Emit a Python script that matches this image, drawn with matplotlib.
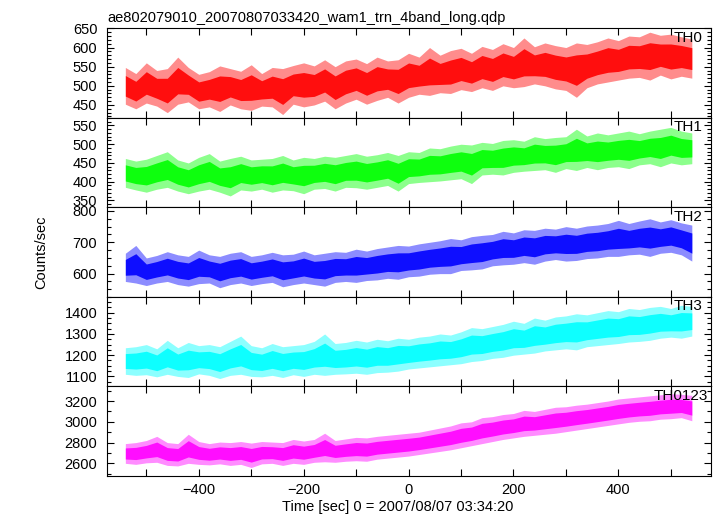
import numpy as np
import matplotlib
matplotlib.use("Agg")
import matplotlib.pyplot as plt
from matplotlib.ticker import MultipleLocator

plt.rcParams['font.family'] = ['Liberation Sans', 'DejaVu Sans']

# ---- data (20 s bins, low / high envelope of the light curve)
t_bins = list(range(-540, 541, 20))

th0_lo = [452, 440, 455, 447, 430, 452, 458, 440, 445, 433, 450, 440, 436, 447, 445, 425, 452, 445, 450, 460,
          440, 455, 465, 452, 462, 470, 455, 470, 478, 475, 482, 480, 490, 485, 495, 488, 500, 495, 498, 505,
          500, 492, 488, 470, 495, 505, 510, 515, 520, 522, 515, 528, 518, 525, 520]
th0_hi = [548, 532, 560, 540, 545, 575, 548, 530, 537, 552, 545, 538, 555, 532, 548, 545, 553, 560, 552, 568,
          550, 565, 570, 558, 575, 565, 568, 585, 575, 600, 580, 592, 598, 585, 603, 595, 610, 600, 625, 602,
          612, 605, 600, 612, 608, 615, 625, 618, 630, 628, 640, 632, 635, 628, 622]

th1_lo = [385, 378, 372, 380, 385, 375, 368, 375, 380, 372, 362, 378, 375, 380, 372, 378, 376, 368, 380, 382,
          375, 385, 384, 380, 385, 390, 375, 395, 398, 400, 402, 405, 408, 395, 418, 420, 418, 425, 428, 430,
          432, 425, 435, 430, 438, 432, 438, 440, 435, 445, 448, 440, 450, 445, 448]
th1_hi = [462, 455, 460, 470, 480, 458, 450, 465, 475, 455, 462, 468, 458, 460, 462, 470, 458, 465, 462, 468,
          465, 470, 475, 468, 472, 478, 470, 480, 478, 490, 488, 495, 500, 498, 505, 502, 510, 512, 508, 520,
          515, 518, 520, 540, 522, 530, 525, 530, 535, 528, 535, 540, 545, 535, 530]

th2_lo = [575, 570, 562, 570, 575, 565, 560, 568, 570, 555, 565, 570, 562, 568, 572, 558, 565, 570, 565, 560,
          572, 575, 572, 578, 580, 585, 582, 590, 592, 598, 600, 600, 610, 612, 615, 625, 628, 630, 635, 630,
          640, 645, 640, 642, 648, 650, 655, 655, 660, 662, 655, 665, 668, 660, 640]
th2_hi = [665, 690, 650, 658, 670, 660, 655, 675, 660, 655, 665, 670, 655, 660, 668, 660, 662, 672, 660, 665,
          670, 668, 678, 672, 680, 685, 690, 688, 695, 700, 705, 712, 708, 718, 722, 725, 735, 730, 740, 738,
          745, 742, 750, 745, 752, 755, 760, 770, 760, 768, 775, 765, 772, 762, 755]

th3_lo = [1110, 1105, 1108, 1098, 1110, 1100, 1095, 1112, 1105, 1090, 1105, 1110, 1100, 1098, 1105, 1095, 1108,
          1100, 1110, 1105, 1110, 1112, 1115, 1110, 1118, 1120, 1125, 1135, 1140, 1145, 1150, 1155, 1160, 1170,
          1175, 1185, 1190, 1200, 1205, 1210, 1220, 1225, 1230, 1225, 1240, 1245, 1250, 1255, 1262, 1265, 1270,
          1280, 1285, 1280, 1290]
th3_hi = [1235, 1240, 1250, 1230, 1270, 1235, 1260, 1245, 1250, 1240, 1265, 1290, 1245, 1235, 1255, 1240, 1245,
          1250, 1265, 1300, 1255, 1260, 1270, 1262, 1275, 1268, 1280, 1275, 1285, 1290, 1300, 1295, 1310, 1330,
          1325, 1335, 1345, 1360, 1350, 1375, 1365, 1380, 1385, 1395, 1390, 1400, 1410, 1405, 1420, 1415, 1425,
          1430, 1420, 1435, 1430]

thsum_lo = [2600, 2590, 2605, 2610, 2580, 2575, 2600, 2590, 2585, 2595, 2580, 2590, 2560, 2595, 2600, 2580, 2600,
            2590, 2610, 2615, 2610, 2620, 2625, 2620, 2640, 2650, 2660, 2670, 2685, 2700, 2715, 2730, 2750, 2770,
            2790, 2810, 2830, 2845, 2860, 2870, 2880, 2890, 2905, 2920, 2935, 2950, 2965, 2980, 2995, 3005, 3010,
            3025, 3030, 3040, 3010]
thsum_hi = [2790, 2800, 2820, 2860, 2800, 2790, 2880, 2810, 2790, 2805, 2800, 2810, 2795, 2810, 2805, 2800, 2830,
            2815, 2830, 2890, 2820, 2835, 2850, 2845, 2860, 2870, 2880, 2890, 2900, 2920, 2940, 2960, 2990, 3000,
            3040, 3050, 3070, 3080, 3110, 3100, 3120, 3140, 3145, 3160, 3170, 3185, 3200, 3220, 3230, 3240, 3250,
            3260, 3270, 3265, 3255]

labels = ['TH0', 'TH1', 'TH2', 'TH3', 'TH0123']
title = 'ae802079010_20070807033420_wam1_trn_4band_long.qdp'
xlabel = 'Time [sec] 0 = 2007/08/07 03:34:20'
ylabel = 'Counts/sec'

# ---- styling
series_lo = [th0_lo, th1_lo, th2_lo, th3_lo, thsum_lo]
series_hi = [th0_hi, th1_hi, th2_hi, th3_hi, thsum_hi]
colors = ['#ff0000', '#00ff00', '#0000ff', '#00ffff', '#ff00ff']
ylims = [(417, 651), (332, 571), (526, 812), (1053, 1475), (2478, 3341)]
ymajor = [50, 50, 100, 100, 200]
yminor = [10, 10, 25, 25, 100]
lab_x = [0.986, 0.986, 0.986, 0.986, 0.996]

fig = plt.figure(figsize=(7.17, 5.16), dpi=100)
axes = fig.subplots(5, 1, sharex=True, gridspec_kw=dict(hspace=0))
fig.subplots_adjust(left=0.1492, right=0.9912, top=1 - 28 / 516, bottom=1 - 476 / 516)

t = np.array(t_bins, dtype=float)
for i, ax in enumerate(axes):
    lo = np.array(series_lo[i], dtype=float)
    hi = np.array(series_hi[i], dtype=float)
    span = hi - lo
    # light outer band (error-bar fringe) and saturated core
    ax.fill_between(t, lo, hi, color=colors[i], alpha=0.45, lw=0)
    ax.fill_between(t, lo + 0.22 * span, hi - 0.22 * span, color=colors[i], alpha=0.9, lw=0)
    ax.set_ylim(*ylims[i])
    ax.set_xlim(-575, 576)
    ax.yaxis.set_major_locator(MultipleLocator(ymajor[i]))
    ax.yaxis.set_minor_locator(MultipleLocator(yminor[i]))
    ax.xaxis.set_major_locator(MultipleLocator(200))
    ax.xaxis.set_minor_locator(MultipleLocator(100))
    ax.tick_params(which='both', direction='in', top=True, right=True, labelsize=10.5, width=0.8)
    ax.tick_params(axis='y', which='major', length=5, pad=7)
    ax.tick_params(axis='y', which='minor', length=3)
    ax.tick_params(axis='x', which='both', length=5, pad=5)
    for s in ax.spines.values():
        s.set_linewidth(0.8)
    ax.text(lab_x[i], 0.97, labels[i], transform=ax.transAxes, ha='right', va='top', fontsize=11)

axes[0].set_title(title, loc='left', fontsize=10.5, pad=4)
fig.text(397.5 / 717, 1 - 507 / 516, xlabel, ha='center', va='center', fontsize=10.5)
fig.text(41 / 717, 1 - 252 / 516, ylabel, ha='center', va='center', rotation=90, fontsize=10.5)

fig.savefig('out.png', dpi=100)
